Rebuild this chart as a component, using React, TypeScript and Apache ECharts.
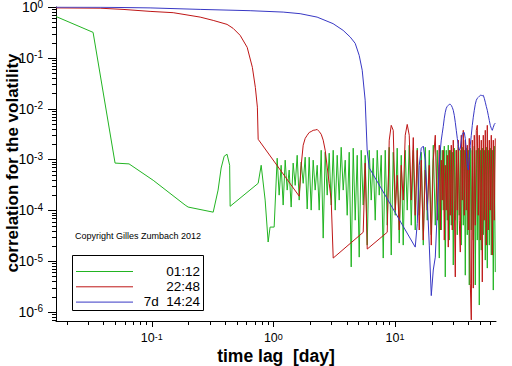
import React, { useEffect, useRef } from "react";
import * as echarts from "echarts";

// ---------- axis ranges ----------
const X_MIN = 0.0163;
const X_MAX = 67.8;
const Y_MIN = 6.65e-7;
const Y_MAX = 1;

// ---------- tick positions ----------
const xMajorTicks = [0.1, 1, 10];
const xMinorTicks = [
  0.02, 0.03, 0.04, 0.05, 0.06, 0.07, 0.08, 0.09,
  0.2, 0.3, 0.4, 0.5, 0.6, 0.7, 0.8, 0.9,
  2, 3, 4, 5, 6, 7, 8, 9,
  20, 30, 40, 50, 60,
];
const yMajorTicks = [1e-6, 1e-5, 1e-4, 1e-3, 1e-2, 1e-1, 1];
const yDecades = [1e-7, 1e-6, 1e-5, 1e-4, 1e-3, 1e-2, 1e-1];
const minorMultipliers = [2, 3, 4, 5, 6, 7, 8, 9];

// ---------- legend ----------
const seriesNames = ["01:12", "22:48", "7d  14:24"];
const seriesColors = ["#22b422", "#be1616", "#3838c4"];

// ---------- green (01:12) ----------
const greenHeadLag = [0.0163, 0.0329, 0.0499, 0.065, 0.1027, 0.188, 0.199, 0.32, 0.351, 0.372, 0.394, 0.416, 0.437, 0.441, 0.75, 0.794, 0.856, 0.906, 0.94, 1.015];
const greenHeadCorr = [0.65, 0.317, 8.5e-4, 8.2e-4, 3.9e-4, 1.27e-4, 1.16e-4, 9.2e-5, 2.5e-4, 6.8e-4, 1.16e-3, 1.27e-3, 7.7e-4, 1.2e-4, 3.4e-4, 7.7e-4, 1.59e-4, 2.38e-5, 4.68e-5, 4.68e-5];

// ---------- red (22:48) ----------
const redHeadLag = [0.0163, 0.0376, 0.058, 0.0968, 0.15, 0.25, 0.32, 0.416, 0.467, 0.533, 0.609, 0.672, 0.711, 0.739, 0.75];
const redHeadCorr = [0.96, 0.947, 0.897, 0.82, 0.773, 0.633, 0.545, 0.455, 0.38, 0.277, 0.161, 0.065, 0.0262, 0.0107, 2.5e-3];

// ---------- blue (7d 14:24) ----------
const blueHeadLag = [0.0163, 0.0376, 0.0968, 0.25, 0.644, 1.204, 1.66, 2.29, 3.1, 3.75, 4.29, 4.71, 5.08, 5.38, 5.69, 5.91, 6.14];
const blueHeadCorr = [0.995, 0.99, 0.96, 0.897, 0.846, 0.794, 0.739, 0.633, 0.47, 0.347, 0.256, 0.193, 0.112, 0.057, 0.0147, 1.53e-3, 6.9e-4];

// ---------- long lags (days), shared grid ----------
const lagGrid = [
  1.075, 1.116, 1.159, 1.204, 1.251, 1.299, 1.349, 1.401, 1.455, 1.512,
  1.57, 1.631, 1.694, 1.759, 1.827, 1.898, 1.971, 2.047, 2.126, 2.208,
  2.294, 2.382, 2.474, 2.57, 2.669, 2.772, 2.879, 2.99, 3.106, 3.226,
  3.35, 3.48, 3.614, 3.754, 3.899, 4.049, 4.206, 4.368, 4.537, 4.712,
  4.894, 5.083, 5.279, 5.483, 5.695, 5.916, 6.144, 6.381, 6.628, 6.884,
  7.15, 7.426, 7.713, 8.011, 8.32, 8.641, 8.975, 9.322, 9.683, 10.06,
  10.44, 10.85, 11.27, 11.7, 12.15, 12.62, 13.11, 13.62, 14.15, 14.69,
  15.26, 15.85, 16.46, 17.1, 17.76, 18.45, 19.16, 19.9, 20.67, 21.47,
  22.3, 23.16,
  23.6, 24.05, 24.51, 24.98, 25.46, 25.94, 26.44, 26.95, 27.46, 27.99,
  28.52, 29.07, 29.62, 30.19, 30.77, 31.36, 31.96, 32.57, 33.19, 33.82,
  34.47, 35.13, 35.8, 36.49, 37.18, 37.9, 38.62, 39.36, 40.11, 40.88,
  41.66, 42.46, 43.27, 44.1, 44.94, 45.8, 46.68, 47.57, 48.48, 49.4,
  50.35, 51.31, 52.29, 53.29, 54.31, 55.35, 56.4, 57.49, 58.58, 59.71,
  60.85, 62.01, 63.2, 64.41, 65.64, 66.9,
];

const greenNoise = [
  1.06e-3, 1.99e-4, 7.7e-4, 1.27e-4, 9.7e-4, 2.5e-4, 6.2e-4, 1.16e-4, 8.5e-4, 3.1e-4,
  1.21e-3, 1.59e-4, 8.9e-4, 3.4e-4, 1.11e-3, 1.06e-4, 1.11e-3, 1.01e-4, 9.7e-4, 2.5e-4,
  7.7e-4, 1.01e-4, 1.52e-3, 2.84e-5, 1.39e-3, 1.99e-4, 1.33e-3, 1.27e-4, 1.52e-3, 1.01e-4,
  1.21e-3, 1.59e-4, 1.74e-3, 2.5e-4, 9.7e-4, 8.0e-5, 1.39e-3, 7.7e-6, 1.67e-3, 6.4e-5,
  1.21e-3, 1.2e-5, 1.52e-3, 1.27e-4, 1.21e-3, 2.07e-5, 1.52e-3, 1.59e-4, 1.06e-3, 6.4e-5,
  1.52e-3, 1.99e-4, 1.21e-3, 1.15e-5, 1.52e-3, 5.1e-5, 1.74e-3, 1.32e-5, 1.39e-3, 8.0e-5,
  1.67e-3, 2.27e-5, 1.21e-3, 2.07e-5, 1.52e-3, 1.01e-4, 1.91e-3, 5.1e-5, 1.52e-3, 4.1e-5,
  1.67e-3, 8.0e-5, 1.39e-3, 2.07e-5, 1.74e-3, 6.4e-5, 1.52e-3, 3.3e-5, 1.91e-3, 5.1e-5,
  1.52e-3, 1.15e-5,
  1.67e-3, 4.1e-5, 1.52e-3, 1.01e-4, 1.83e-3, 4.9e-6, 1.52e-3, 6.4e-5, 1.91e-3, 2.6e-5,
  1.52e-3, 5.1e-5, 1.39e-3, 8.4e-6, 1.67e-3, 6.4e-5, 1.52e-3, 3.3e-5, 1.91e-3, 8.0e-5,
  1.52e-3, 2.07e-5, 1.74e-3, 5.1e-5, 1.52e-3, 5.3e-6, 1.67e-3, 3.3e-5, 1.52e-3, 3.4e-6,
  1.67e-3, 4.1e-5, 1.52e-3, 2.6e-5, 1.83e-3, 3.4e-6, 1.52e-3, 2.6e-5, 1.67e-3, 1.37e-6,
  1.52e-3, 1.65e-5, 1.67e-3, 3.3e-5, 1.52e-3, 1.05e-5, 1.74e-3, 7.3e-6, 1.52e-3, 2.07e-5,
  1.67e-3, 1.32e-5, 1.52e-3, 2.7e-6, 1.83e-3, 6.1e-6,
];

// red values on the last part of the grid; null = negative (not drawn on log axis)
const redNoise = [
  1.9e-4, 7.7e-4, 1.91e-3, 2.6e-3, 3.0e-3, 3.4e-3, 3.55e-3, 3.75e-3, 3.8e-3,
  3.9e-3, 3.55e-3, 3.14e-3, 2.4e-3, 1.52e-3, 7.1e-4, 3.4e-4, 1.59e-4, 1.15e-5, null,
  null, null, null, null, null, null, null, null, null, null,
  null, null, null, 3.7e-5, 8.5e-4, 1.73e-5, null, null, null, null,
  null, null, null, null, null, 3.7e-5, 2.4e-3, 4.7e-3, 3.75e-3, 1.01e-4,
  4.9e-4, 4.1e-5, 7.7e-4, 1.59e-4, 3.0e-3, 4.9e-3, 3.0e-3, 1.59e-4, 2.7e-3, 8.0e-5,
  1.52e-3, 4.1e-5, 9.7e-4, 2.6e-5, 6.2e-4, 1.01e-4, 7.7e-4, 2.07e-5, 9.7e-4, 3.0e-3,
  6.4e-5, 1.91e-3,
  4.1e-5, 9.7e-4, 1.59e-4, 1.52e-3, 2.6e-5, 7.7e-4, 1.01e-4, 1.21e-3, 1.89e-5, 1.52e-3,
  8.0e-5, 1.91e-3, 4.1e-5, 2.4e-3, 1.59e-4, 4.9e-6, 1.52e-3, 1.01e-4, 2.4e-3, 6.4e-5,
  1.51e-5, 3.0e-3, 1.59e-4, 3.75e-3, 8.0e-5, 2.4e-3, 1.01e-4, 1.91e-3, 4.1e-5, 2.6e-3,
  3.7e-6, 7.0e-7, 2.4e-3, 2.95e-6, 3.0e-3, 5.1e-5, 3.75e-3, 4.7e-3, 8.0e-5, 3.0e-3,
  2.6e-5, 2.4e-3, 3.9e-6, 3.0e-3, 6.4e-5, 3.75e-3, 2.07e-5, 4.7e-3, 4.1e-5, 2.4e-3,
  1.01e-4, 3.0e-3, 1.32e-5, 2.4e-3, 6.4e-5, 2.6e-3,
];

const blueNoise = [
  1.89e-5, 5.5e-5, 7.7e-4, 1.67e-3, 1.83e-3, 9.7e-4, 1.59e-4, 2.07e-5, 2.1e-6, 6.7e-6,
  1.2e-5, 1.01e-4, 7.7e-4,
  1.52e-3, 2.4e-3, 3.3e-3, 4.5e-3, 6.5e-3, 8.5e-3, 1.02e-2, 1.11e-2, 1.16e-2, 1.22e-2,
  1.22e-2, 1.16e-2, 1.06e-2, 9.3e-3, 7.4e-3, 5.4e-3, 3.75e-3, 2.6e-3, 1.91e-3, 1.52e-3,
  1.67e-3, 2.4e-3, 3.1e-3, 3.4e-3, 3.4e-3, 2.6e-3, 1.52e-3, 7.7e-4, 6.2e-4, 1.06e-3,
  1.91e-3, 3.0e-3, 4.7e-3, 6.8e-3, 9.3e-3, 1.22e-2, 1.46e-2, 1.6e-2, 1.67e-2, 1.75e-2,
  1.83e-2, 1.83e-2, 1.8e-2, 1.83e-2, 1.6e-2, 1.34e-2, 1.11e-2, 9.3e-3, 7.4e-3, 5.9e-3,
  4.7e-3, 4.1e-3, 3.75e-3, 4.3e-3, 4.9e-3, 5.2e-3,
];

const FONT = '"Liberation Sans", Arial, Helvetica, sans-serif';

function pairs(lags: number[], vals: (number | null)[]) {
  const out: number[][] = [];
  for (let i = 0; i < vals.length; i++) {
    const v = vals[i];
    if (v != null) out.push([lags[i], v]);
  }
  return out;
}
function tail(n: number) {
  return lagGrid.slice(lagGrid.length - n);
}

const greenData = [...pairs(greenHeadLag, greenHeadCorr), ...pairs(lagGrid, greenNoise)];
const redData = [...pairs(redHeadLag, redHeadCorr), ...pairs(tail(redNoise.length), redNoise)];
const blueData = [...pairs(blueHeadLag, blueHeadCorr), ...pairs(tail(blueNoise.length), blueNoise)];

function powLabel(v: number) {
  const e = Math.log10(v);
  const r = Math.round(e);
  if (Math.abs(e - r) > 1e-6) return "";
  return `{b|10}{s|${r}}`;
}

export default function App() {
  const ref = useRef<HTMLDivElement>(null);
  useEffect(() => {
    if (!ref.current) return;
    const chart = echarts.init(ref.current, undefined, { renderer: "svg" });

    const xTickData: number[][] = [
      ...xMajorTicks.map((v) => [v, Y_MIN, 6]),
      ...xMinorTicks.map((v) => [v, Y_MIN, 4]),
    ];
    const yMinor: number[] = [];
    yDecades.forEach((d) =>
      minorMultipliers.forEach((m) => {
        const v = m * d;
        if (v >= Y_MIN && v <= Y_MAX) yMinor.push(v);
      })
    );
    const yTickData: number[][] = [
      ...yMajorTicks.map((v) => [X_MIN, v, 8]),
      ...yMinor.map((v) => [X_MIN, v, 4]),
    ];

    const lineSeries = (name: string, data: number[][], color: string, z: number) => ({
      type: "line",
      name,
      data,
      symbol: "none",
      showSymbol: false,
      silent: true,
      z,
      lineStyle: { color, width: 1 },
      itemStyle: { color },
    });

    const option: any = {
      animation: false,
      backgroundColor: "#ffffff",
      textStyle: { fontFamily: FONT },
      grid: {
        left: 56,
        right: 16,
        top: 7,
        bottom: 45,
        containLabel: false,
        outerBoundsMode: "none",
      },
      xAxis: {
        type: "log",
        logBase: 10,
        min: X_MIN,
        max: X_MAX,
        axisLine: { show: true, onZero: false, lineStyle: { color: "#000", width: 1 } },
        axisTick: { show: false },
        minorTick: { show: false },
        splitLine: { show: false },
        axisLabel: {
          margin: 11,
          color: "#000",
          formatter: powLabel,
          rich: {
            b: { fontSize: 12.5, fontFamily: FONT, color: "#000", lineHeight: 12 },
            s: { fontSize: 9, fontFamily: FONT, color: "#000", lineHeight: 8, verticalAlign: "top" },
          },
        },
      },
      yAxis: {
        type: "log",
        logBase: 10,
        min: Y_MIN,
        max: Y_MAX,
        axisLine: { show: true, onZero: false, lineStyle: { color: "#000", width: 1 } },
        axisTick: { show: false },
        minorTick: { show: false },
        splitLine: { show: false },
        axisLabel: {
          margin: 13,
          color: "#000",
          formatter: powLabel,
          rich: {
            b: { fontSize: 14, fontFamily: FONT, color: "#000", lineHeight: 16 },
            s: { fontSize: 10, fontFamily: FONT, color: "#000", lineHeight: 10, verticalAlign: "top" },
          },
        },
      },
      series: [
        lineSeries(seriesNames[0], greenData, seriesColors[0], 2),
        lineSeries(seriesNames[1], redData, seriesColors[1], 3),
        lineSeries(seriesNames[2], blueData, seriesColors[2], 4),
        {
          type: "custom",
          coordinateSystem: "cartesian2d",
          silent: true,
          clip: false,
          z: 6,
          data: xTickData,
          renderItem: (_p: any, api: any) => {
            const p = api.coord([api.value(0), api.value(1)]);
            const len = api.value(2);
            const x = Math.round(p[0]) + 0.5;
            const y = Math.round(p[1]);
            return {
              type: "line",
              shape: { x1: x, y1: y, x2: x, y2: y + len },
              style: { stroke: "#000", lineWidth: 1 },
            };
          },
        },
        {
          type: "custom",
          coordinateSystem: "cartesian2d",
          silent: true,
          clip: false,
          z: 6,
          data: yTickData,
          renderItem: (_p: any, api: any) => {
            const p = api.coord([api.value(0), api.value(1)]);
            const len = api.value(2);
            const y = Math.round(p[1]) + 0.5;
            const x = Math.round(p[0]);
            return {
              type: "line",
              shape: { x1: x - len, y1: y, x2: x, y2: y },
              style: { stroke: "#000", lineWidth: 1 },
            };
          },
        },
      ],
      graphic: [
        {
          type: "text",
          x: 12,
          y: 163,
          rotation: Math.PI / 2,
          z: 10,
          style: {
            text: "correlation for the volatility",
            font: `bold 17px ${FONT}`,
            fill: "#000",
            align: "center",
            verticalAlign: "middle",
            textAlign: "center",
            textVerticalAlign: "middle",
          },
        },
        {
          type: "text",
          x: 276,
          y: 356,
          z: 10,
          style: {
            text: "time lag  [day]",
            font: `bold 17.5px ${FONT}`,
            fill: "#000",
            align: "center",
            verticalAlign: "middle",
            textAlign: "center",
            textVerticalAlign: "middle",
          },
        },
        {
          type: "text",
          x: 75,
          y: 236,
          z: 10,
          style: {
            text: "Copyright Gilles Zumbach 2012",
            font: `9px ${FONT}`,
            fill: "#000",
            verticalAlign: "middle",
            textVerticalAlign: "middle",
          },
        },
        {
          type: "rect",
          z: 10,
          shape: { x: 72.5, y: 255.5, width: 131, height: 55 },
          style: { fill: "#fff", stroke: "#000", lineWidth: 1 },
        },
        ...seriesNames.flatMap((name, i) => [
          {
            type: "line",
            z: 11,
            shape: { x1: 76, y1: 271.5 + i * 15.3, x2: 133, y2: 271.5 + i * 15.3 },
            style: { stroke: seriesColors[i], lineWidth: 1 },
          },
          {
            type: "text",
            z: 11,
            x: 200,
            y: 271 + i * 15.3,
            style: {
              text: name,
              font: `13.5px ${FONT}`,
              fill: "#000",
              align: "right",
              verticalAlign: "middle",
              textAlign: "right",
              textVerticalAlign: "middle",
            },
          },
        ]),
      ],
    };

    chart.setOption(option);
    return () => chart.dispose();
  }, []);

  return (
    <div
      ref={ref}
      style={{ position: "fixed", left: 0, top: 0, width: 512, height: 366, background: "#fff" }}
    />
  );
}
